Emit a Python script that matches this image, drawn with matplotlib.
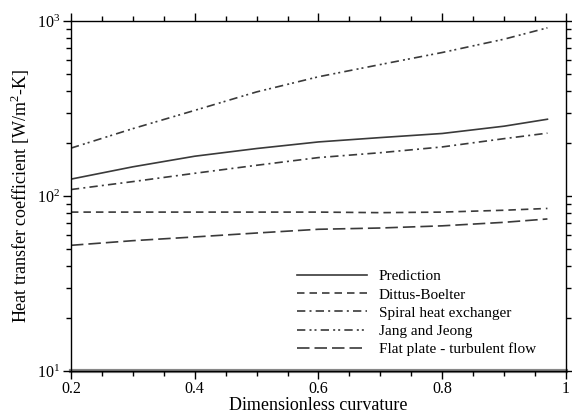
import matplotlib
matplotlib.use('Agg')
import matplotlib.pyplot as plt
import numpy as np
from matplotlib.ticker import LogLocator, NullFormatter, MultipleLocator

plt.rcParams['font.family'] = ['Liberation Serif', 'DejaVu Serif']
plt.rcParams['mathtext.fontset'] = 'custom'
plt.rcParams['mathtext.rm'] = 'Liberation Serif'

# valeurs
curv = [0.2, 0.3, 0.4, 0.5, 0.6, 0.7, 0.8, 0.9, 0.97]
prediction = [125, 147, 169, 187, 204, 216, 228, 251, 275]
dittus = [81, 81, 81, 81, 81, 80.4, 81, 83, 85]
spiral = [109, 121, 135, 150, 166, 177, 191, 213, 229]
jang = [188, 243, 309, 394, 481, 565, 662, 789, 916]
flat = [52.3, 55.6, 58.4, 61.5, 64.6, 65.7, 67.6, 70.8, 74]

xticks = [0.2, 0.4, 0.6, 0.8, 1.0]
xticklabels = ['0.2', '0.4', '0.6', '0.8', '1']

fig = plt.figure(figsize=(5.72, 4.15), dpi=100)
ax = fig.add_axes([0.124, 0.106, 0.8655, 0.843])

col = '#3a3a3a'
lw = 1.2
ax.plot(curv, prediction, color=col, lw=lw, label='Prediction')
ax.plot(curv, dittus, color=col, lw=lw, dashes=(4.5, 3), label='Dittus-Boelter')
ax.plot(curv, spiral, color=col, lw=lw, dashes=(5, 2.5, 1.2, 2.5), label='Spiral heat exchanger')
ax.plot(curv, jang, color=col, lw=lw, dashes=(5, 2.5, 1.2, 1.8, 1.2, 2.5), label='Jang and Jeong')
ax.plot(curv, flat, color=col, lw=lw, dashes=(7.5, 3), label='Flat plate - turbulent flow')
ax.axhline(10, color='#888888', lw=3, clip_on=False, zorder=0)

ax.set_yscale('log')
ax.set_xlim(0.2, 1.0)
ax.set_ylim(10, 1000)
ax.set_xticks(xticks)
ax.set_xticklabels(xticklabels)
ax.xaxis.set_minor_locator(MultipleLocator(0.05))
ax.yaxis.set_minor_locator(LogLocator(base=10, subs=np.arange(2, 10)))
ax.yaxis.set_minor_formatter(NullFormatter())

ax.tick_params(which='both', direction='out', top=True, right=True, labelsize=11.5, width=1, pad=1.5)
ax.tick_params(which='major', length=6)
ax.tick_params(which='minor', length=3.5)
for s in ax.spines.values():
    s.set_linewidth(1)

ax.set_xlabel('Dimensionless curvature', fontsize=13, labelpad=0)
ax.set_ylabel('Heat transfer coefficient [W/m$^2$-K]', fontsize=13, labelpad=4)

ax.legend(loc='upper left', frameon=False, fontsize=11, handlelength=4.6, handletextpad=0.75,
          bbox_to_anchor=(0.4566, 0.29), borderpad=0, borderaxespad=0, labelspacing=0.3)

fig.savefig('out.png', dpi=100)
